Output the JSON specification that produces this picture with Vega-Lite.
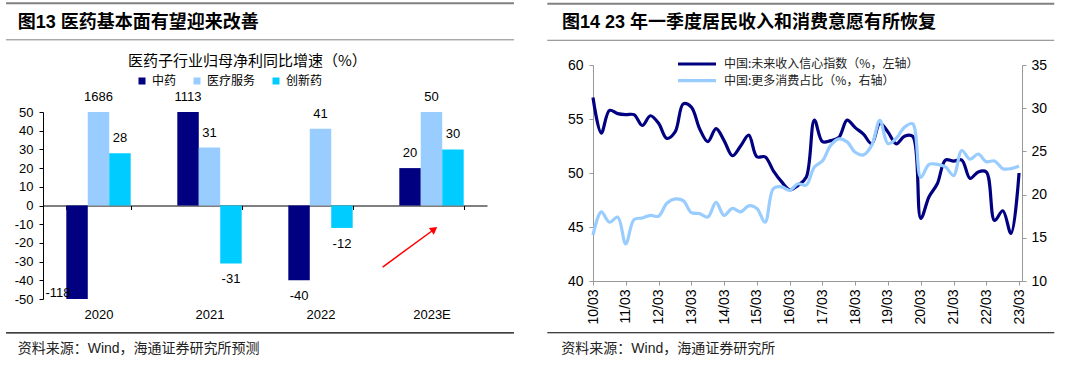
{
  "$schema": "https://vega.github.io/schema/vega-lite/v6.json",
  "background": "white",
  "padding": {"left": 5, "top": 2, "right": 5, "bottom": 0},
  "spacing": 31,
  "resolve": {"scale": {"color": "independent"}, "legend": {"color": "independent"}},
  "config": {
    "view": {"stroke": null},
    "font": "Liberation Sans, Noto Sans CJK SC",
    "locale": {"number": {"decimal": ".", "thousands": ",", "grouping": [3], "currency": ["$", ""], "minus": "-"}},
    "axis": {"grid": false, "labelFont": "Liberation Sans", "labelColor": "#000"}
  },
  "datasets": {
    "bars": [
      {"year": "2020", "sector": "中药", "value": -118},
      {"year": "2020", "sector": "医疗服务", "value": 1686},
      {"year": "2020", "sector": "创新药", "value": 28},
      {"year": "2021", "sector": "中药", "value": 1113},
      {"year": "2021", "sector": "医疗服务", "value": 31},
      {"year": "2021", "sector": "创新药", "value": -31},
      {"year": "2022", "sector": "中药", "value": -40},
      {"year": "2022", "sector": "医疗服务", "value": 41},
      {"year": "2022", "sector": "创新药", "value": -12},
      {"year": "2023E", "sector": "中药", "value": 20},
      {"year": "2023E", "sector": "医疗服务", "value": 50},
      {"year": "2023E", "sector": "创新药", "value": 30}
    ],
    "survey": [
      {"date": "2010-03-01", "income": 57.0, "consume": 15.3},
      {"date": "2010-06-01", "income": 53.7, "consume": 18.0},
      {"date": "2010-09-01", "income": 55.8, "consume": 16.8},
      {"date": "2010-12-01", "income": 55.5, "consume": 17.4},
      {"date": "2011-03-01", "income": 55.4, "consume": 14.3},
      {"date": "2011-06-01", "income": 55.4, "consume": 17.1},
      {"date": "2011-09-01", "income": 54.4, "consume": 17.3},
      {"date": "2011-12-01", "income": 55.3, "consume": 17.6},
      {"date": "2012-03-01", "income": 54.6, "consume": 17.5},
      {"date": "2012-06-01", "income": 53.2, "consume": 19.0},
      {"date": "2012-09-01", "income": 53.8, "consume": 19.5},
      {"date": "2012-12-01", "income": 56.4, "consume": 19.3},
      {"date": "2013-03-01", "income": 56.1, "consume": 17.9},
      {"date": "2013-06-01", "income": 54.1, "consume": 17.8},
      {"date": "2013-09-01", "income": 52.9, "consume": 17.4},
      {"date": "2013-12-01", "income": 54.1, "consume": 19.1},
      {"date": "2014-03-01", "income": 53.0, "consume": 17.6},
      {"date": "2014-06-01", "income": 51.6, "consume": 18.4},
      {"date": "2014-09-01", "income": 52.5, "consume": 18.0},
      {"date": "2014-12-01", "income": 53.5, "consume": 18.7},
      {"date": "2015-03-01", "income": 51.5, "consume": 18.4},
      {"date": "2015-06-01", "income": 51.5, "consume": 16.8},
      {"date": "2015-09-01", "income": 50.2, "consume": 20.7},
      {"date": "2015-12-01", "income": 49.2, "consume": 20.9},
      {"date": "2016-03-01", "income": 48.45, "consume": 20.5},
      {"date": "2016-06-01", "income": 48.85, "consume": 21.25},
      {"date": "2016-09-01", "income": 49.6, "consume": 21.1},
      {"date": "2016-12-01", "income": 54.9, "consume": 23.2},
      {"date": "2017-03-01", "income": 52.9, "consume": 23.9},
      {"date": "2017-06-01", "income": 53.0, "consume": 25.7},
      {"date": "2017-09-01", "income": 53.3, "consume": 26.45},
      {"date": "2017-12-01", "income": 54.9, "consume": 26.1},
      {"date": "2018-03-01", "income": 54.2, "consume": 24.9},
      {"date": "2018-06-01", "income": 53.6, "consume": 24.6},
      {"date": "2018-09-01", "income": 52.7, "consume": 25.7},
      {"date": "2018-12-01", "income": 54.6, "consume": 28.6},
      {"date": "2019-03-01", "income": 53.8, "consume": 25.9},
      {"date": "2019-06-01", "income": 52.7, "consume": 26.5},
      {"date": "2019-09-01", "income": 53.4, "consume": 27.8},
      {"date": "2019-12-01", "income": 53.4, "consume": 28.2},
      {"date": "2020-03-01", "income": 45.8, "consume": 22.0},
      {"date": "2020-06-01", "income": 47.8, "consume": 23.5},
      {"date": "2020-09-01", "income": 49.0, "consume": 23.5},
      {"date": "2020-12-01", "income": 51.2, "consume": 23.2},
      {"date": "2021-03-01", "income": 51.1, "consume": 22.2},
      {"date": "2021-06-01", "income": 51.2, "consume": 25.1},
      {"date": "2021-09-01", "income": 49.5, "consume": 24.1},
      {"date": "2021-12-01", "income": 50.1, "consume": 24.7},
      {"date": "2022-03-01", "income": 50.1, "consume": 23.8},
      {"date": "2022-06-01", "income": 45.6, "consume": 23.9},
      {"date": "2022-09-01", "income": 46.5, "consume": 23.0},
      {"date": "2022-12-01", "income": 44.4, "consume": 23.0},
      {"date": "2023-03-01", "income": 50.0, "consume": 23.3}
    ]
  },
  "hconcat": [
    {
      "width": 444,
      "height": 234,
      "layer": [
        {
          "data": {"name": "bars"},
          "encoding": {
            "x": {
              "field": "year", "type": "nominal",
              "scale": {"domain": ["2020", "2021", "2022", "2023E"], "paddingInner": 0.42, "paddingOuter": 0.21},
              "axis": {"title": null, "orient": "bottom", "offset": -93.5, "labelAngle": 0, "labelPadding": 99, "labelFontSize": 13, "domainColor": "#000", "tickColor": "#000", "tickSize": 4, "tickBand": "extent"}
            },
            "xOffset": {"field": "sector", "type": "nominal", "scale": {"domain": ["中药", "医疗服务", "创新药"], "paddingInner": 0, "paddingOuter": 0}},
            "y": {
              "field": "value", "type": "quantitative",
              "scale": {"domain": [-50, 50], "range": [234, 47], "clamp": true, "nice": false, "zero": false},
              "axis": {"title": null, "values": [-50, -40, -30, -20, -10, 0, 10, 20, 30, 40, 50], "labelFontSize": 13, "labelPadding": 6, "tickSize": 4, "domainColor": "#000", "tickColor": "#000"}
            }
          },
          "layer": [
            {
              "mark": {"type": "bar"},
              "encoding": {
                "y2": {"datum": 0},
                "color": {
                  "field": "sector", "type": "nominal",
                  "scale": {"domain": ["中药", "医疗服务", "创新药"], "range": ["#000080", "#99CCFF", "#00CCFF"]},
                  "legend": {"title": null, "orient": "none", "legendX": 93, "legendY": 10, "direction": "horizontal", "symbolType": "square", "symbolSize": 49, "symbolStrokeWidth": 0, "labelFont": "Noto Sans CJK SC", "labelFontSize": 12, "labelColor": "#000", "labelOffset": 4, "columnPadding": 14}
                }
              }
            },
            {
              "transform": [{"filter": "datum.value >= 0"}],
              "mark": {"type": "text", "dy": -15, "fontSize": 13, "font": "Liberation Sans", "color": "#000", "baseline": "middle"},
              "encoding": {"text": {"field": "value", "type": "quantitative", "format": "d"}}
            },
            {
              "transform": [{"filter": "datum.value < 0 && datum.value >= -50"}],
              "mark": {"type": "text", "dy": 16, "fontSize": 13, "font": "Liberation Sans", "color": "#000", "baseline": "middle"},
              "encoding": {"text": {"field": "value", "type": "quantitative", "format": "d"}}
            },
            {
              "transform": [{"filter": "datum.value < -50"}],
              "mark": {"type": "text", "dx": -19, "dy": -6, "fontSize": 13, "font": "Liberation Sans", "color": "#000", "baseline": "middle"},
              "encoding": {"text": {"field": "value", "type": "quantitative", "format": "d"}}
            }
          ]
        },
        {
          "data": {"values": [{}]},
          "mark": {"type": "rule", "color": "#808080", "strokeWidth": 2},
          "encoding": {
            "x": {"datum": -0.333, "scale": {"domain": [0, 4], "nice": false, "zero": false}, "axis": null},
            "x2": {"datum": 4.243},
            "y": {"datum": 108.1, "scale": {"domain": [-50, 50], "range": [234, 47], "nice": false, "zero": false}, "axis": null}
          }
        },
        {
          "data": {"values": [{}]},
          "mark": {"type": "rule", "color": "#808080", "strokeWidth": 1},
          "encoding": {
            "x": {"datum": -0.333, "scale": {"domain": [0, 4], "nice": false, "zero": false}, "axis": null},
            "x2": {"datum": 4.243},
            "y": {"datum": 88.6, "scale": {"domain": [-50, 50], "range": [234, 47], "nice": false, "zero": false}, "axis": null}
          }
        },
        {
          "data": {"values": [{}]},
          "mark": {"type": "rule", "color": "#000", "strokeWidth": 1.2},
          "encoding": {
            "x": {"datum": -0.333, "scale": {"domain": [0, 4], "nice": false, "zero": false}, "axis": null},
            "x2": {"datum": 4.243},
            "y": {"datum": -68.1, "scale": {"domain": [-50, 50], "range": [234, 47], "nice": false, "zero": false}, "axis": null}
          }
        },
        {
          "data": {"values": [{}]},
          "mark": {"type": "text", "text": "图13 医药基本面有望迎来改善", "align": "left", "baseline": "middle", "fontSize": 18, "fontWeight": "bold", "color": "#000"},
          "encoding": {
            "x": {"datum": -0.228, "scale": {"domain": [0, 4], "nice": false, "zero": false}, "axis": null},
            "y": {"datum": 97.6, "scale": {"domain": [-50, 50], "range": [234, 47], "nice": false, "zero": false}, "axis": null}
          }
        },
        {
          "data": {"values": [{}]},
          "mark": {"type": "text", "text": "医药子行业归母净利同比增速（%）", "align": "center", "baseline": "middle", "fontSize": 15, "color": "#000", "font": "Noto Sans CJK SC"},
          "encoding": {
            "x": {"datum": 1.842, "scale": {"domain": [0, 4], "nice": false, "zero": false}, "axis": null},
            "y": {"datum": 77.1, "scale": {"domain": [-50, 50], "range": [234, 47], "nice": false, "zero": false}, "axis": null}
          }
        },
        {
          "data": {"values": [{}]},
          "mark": {"type": "text", "text": "资料来源：Wind，海通证券研究所预测", "align": "left", "baseline": "middle", "fontSize": 14, "color": "#222"},
          "encoding": {
            "x": {"datum": -0.228, "scale": {"domain": [0, 4], "nice": false, "zero": false}, "axis": null},
            "y": {"datum": -76.5, "scale": {"domain": [-50, 50], "range": [234, 47], "nice": false, "zero": false}, "axis": null}
          }
        },
        {
          "data": {"values": [{}]},
          "mark": {"type": "rule", "color": "#FF0000", "strokeWidth": 1.5},
          "encoding": {
            "x": {"datum": 3.06, "scale": {"domain": [0, 4], "nice": false, "zero": false}, "axis": null},
            "x2": {"datum": 3.525},
            "y": {"datum": -32.9, "scale": {"domain": [-50, 50], "range": [234, 47], "nice": false, "zero": false}, "axis": null},
            "y2": {"datum": -12.7}
          }
        },
        {
          "data": {"values": [{}]},
          "mark": {"type": "point", "shape": "triangle-up", "filled": true, "color": "#FF0000", "size": 70, "angle": 53.6, "opacity": 1},
          "encoding": {
            "x": {"datum": 3.525, "scale": {"domain": [0, 4], "nice": false, "zero": false}, "axis": null},
            "y": {"datum": -12.7, "scale": {"domain": [-50, 50], "range": [234, 47], "nice": false, "zero": false}, "axis": null}
          }
        }
      ],
      "resolve": {"scale": {"x": "independent", "y": "independent"}}
    },
    {
      "width": 429,
      "height": 216,
      "layer": [
        {
          "data": {"name": "survey"},
          "mark": {"type": "line", "interpolate": "catmull-rom", "strokeWidth": 3.2},
          "encoding": {
            "x": {
              "field": "date", "type": "temporal",
              "scale": {"type": "utc", "domain": [{"year": 2010, "month": 3, "date": 1, "utc": true}, {"year": 2023, "month": 4, "date": 3, "utc": true}]},
              "axis": {
                "title": null, "labelExpr": "utcFormat(datum.value, '%y/%m')", "labelAngle": -90, "labelFontSize": 14, "labelPadding": 4, "tickSize": 4, "domainColor": "#999", "tickColor": "#999",
                "values": [
                  {"year": 2010, "month": 3, "date": 1, "utc": true},
                  {"year": 2011, "month": 3, "date": 1, "utc": true},
                  {"year": 2012, "month": 3, "date": 1, "utc": true},
                  {"year": 2013, "month": 3, "date": 1, "utc": true},
                  {"year": 2014, "month": 3, "date": 1, "utc": true},
                  {"year": 2015, "month": 3, "date": 1, "utc": true},
                  {"year": 2016, "month": 3, "date": 1, "utc": true},
                  {"year": 2017, "month": 3, "date": 1, "utc": true},
                  {"year": 2018, "month": 3, "date": 1, "utc": true},
                  {"year": 2019, "month": 3, "date": 1, "utc": true},
                  {"year": 2020, "month": 3, "date": 1, "utc": true},
                  {"year": 2021, "month": 3, "date": 1, "utc": true},
                  {"year": 2022, "month": 3, "date": 1, "utc": true},
                  {"year": 2023, "month": 3, "date": 1, "utc": true}
                ]
              }
            },
            "y": {
              "field": "income", "type": "quantitative",
              "scale": {"domain": [40, 60], "nice": false, "zero": false},
              "axis": {"title": null, "orient": "left", "values": [40, 45, 50, 55, 60], "labelFontSize": 14, "labelPadding": 6, "tickSize": 4, "domainColor": "#999", "tickColor": "#999"}
            },
            "color": {
              "datum": "中国:未来收入信心指数（%，左轴）",
              "scale": {"domain": ["中国:未来收入信心指数（%，左轴）", "中国:更多消费占比（%，右轴）"], "range": ["#000080", "#99CCFF"]},
              "legend": {"title": null, "orient": "none", "legendX": 83, "legendY": -9, "direction": "vertical", "symbolType": "stroke", "symbolSize": 1444, "symbolStrokeWidth": 3.2, "clipHeight": 16, "rowPadding": 0.7, "labelFont": "Noto Sans CJK SC", "labelFontSize": 12, "labelColor": "#222", "labelOffset": 6, "labelLimit": 400}
            }
          }
        },
        {
          "data": {"name": "survey"},
          "mark": {"type": "line", "interpolate": "catmull-rom", "strokeWidth": 3.2},
          "encoding": {
            "x": {
              "field": "date", "type": "temporal",
              "scale": {"type": "utc", "domain": [{"year": 2010, "month": 3, "date": 1, "utc": true}, {"year": 2023, "month": 4, "date": 3, "utc": true}]},
              "axis": null
            },
            "y": {
              "field": "consume", "type": "quantitative",
              "scale": {"domain": [10, 35], "nice": false, "zero": false},
              "axis": {"title": null, "orient": "right", "values": [10, 15, 20, 25, 30, 35], "labelFontSize": 14, "labelPadding": 5, "tickSize": 4, "domainColor": "#999", "tickColor": "#999"}
            },
            "color": {"datum": "中国:更多消费占比（%，右轴）"}
          }
        },
        {
          "data": {"values": [{}]},
          "mark": {"type": "rule", "color": "#808080", "strokeWidth": 2},
          "encoding": {
            "x": {"datum": 2008.767, "scale": {"domain": [2010.1616, 2023.252], "nice": false, "zero": false}, "axis": null},
            "x2": {"datum": 2024.237},
            "y": {"datum": 65.665, "scale": {"domain": [40, 60], "nice": false, "zero": false}, "axis": null}
          }
        },
        {
          "data": {"values": [{}]},
          "mark": {"type": "rule", "color": "#808080", "strokeWidth": 1},
          "encoding": {
            "x": {"datum": 2008.767, "scale": {"domain": [2010.1616, 2023.252], "nice": false, "zero": false}, "axis": null},
            "x2": {"datum": 2024.237},
            "y": {"datum": 62.29, "scale": {"domain": [40, 60], "nice": false, "zero": false}, "axis": null}
          }
        },
        {
          "data": {"values": [{}]},
          "mark": {"type": "rule", "color": "#000", "strokeWidth": 1.2},
          "encoding": {
            "x": {"datum": 2008.767, "scale": {"domain": [2010.1616, 2023.252], "nice": false, "zero": false}, "axis": null},
            "x2": {"datum": 2024.237},
            "y": {"datum": 35.21, "scale": {"domain": [40, 60], "nice": false, "zero": false}, "axis": null}
          }
        },
        {
          "data": {"values": [{}]},
          "mark": {"type": "text", "text": "图14 23 年一季度居民收入和消费意愿有所恢复", "align": "left", "baseline": "middle", "fontSize": 18, "fontWeight": "bold", "color": "#000"},
          "encoding": {
            "x": {"datum": 2009.216, "scale": {"domain": [2010.1616, 2023.252], "nice": false, "zero": false}, "axis": null},
            "y": {"datum": 63.845, "scale": {"domain": [40, 60], "nice": false, "zero": false}, "axis": null}
          }
        },
        {
          "data": {"values": [{}]},
          "mark": {"type": "text", "text": "资料来源：Wind，海通证券研究所", "align": "left", "baseline": "middle", "fontSize": 14, "color": "#222"},
          "encoding": {
            "x": {"datum": 2009.195, "scale": {"domain": [2010.1616, 2023.252], "nice": false, "zero": false}, "axis": null},
            "y": {"datum": 33.66, "scale": {"domain": [40, 60], "nice": false, "zero": false}, "axis": null}
          }
        }
      ],
      "resolve": {"scale": {"x": "independent", "y": "independent"}}
    }
  ]
}
